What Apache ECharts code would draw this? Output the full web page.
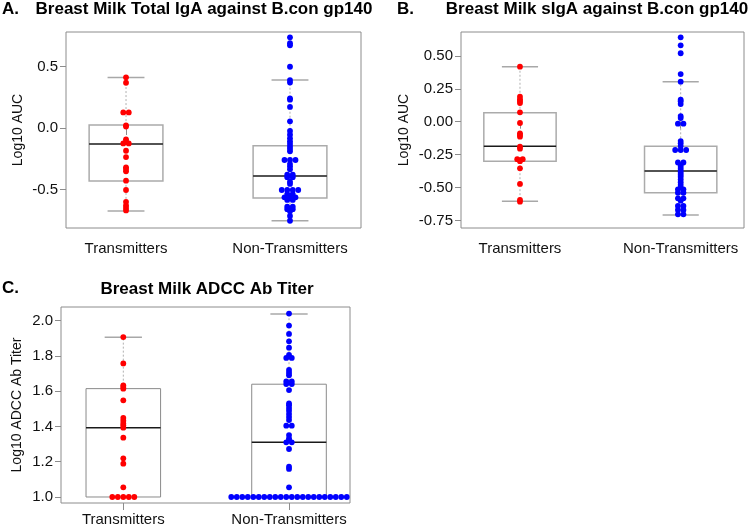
<!DOCTYPE html>
<html>
<head>
<meta charset="UTF-8">
<title>Breast milk antibody: transmitters vs non-transmitters</title>
<script src="https://cdn.jsdelivr.net/npm/echarts@6/dist/echarts.min.js"></script>
<style>
    html, body { margin: 0; padding: 0; background: #fff; }
    #main { width: 750px; height: 529px; }
</style>
</head>
<body>
<div id="main"></div>
<script>
var groups = ['Transmitters', 'Non-Transmitters'];

// A. total IgA against B.con gp140 (log10 AUC)
var igaTrans = [0.412, 0.368, 0.127, 0.127, 0.022, 0.012, -0.092, -0.111, -0.125, -0.125,
    -0.185, -0.236, -0.320, -0.333, -0.352, -0.428, -0.504, -0.600, -0.630, -0.650, -0.670];
var igaNon = [0.737, 0.689, 0.672, 0.498, 0.390, 0.370, 0.241, 0.230, 0.171, 0.054,
    -0.024, -0.054, -0.084, -0.108, -0.130, -0.152, -0.171, -0.190, -0.260, -0.260, -0.260,
    -0.293, -0.314, -0.336, -0.380, -0.380, -0.400, -0.400, -0.436, -0.455,
    -0.504, -0.504, -0.504, -0.504, -0.537, -0.537, -0.564, -0.564, -0.564, -0.585, -0.585,
    -0.640, -0.640, -0.660, -0.660, -0.677, -0.715, -0.754];
// box stats: [lower whisker, Q1, median, Q3, upper whisker]
var igaBoxTrans = [-0.675, -0.430, -0.130, 0.024, 0.410];
var igaBoxNon = [-0.754, -0.570, -0.390, -0.144, 0.390];
var igaTicks = [-0.5, 0, 0.5];

// B. sIgA against B.con gp140 (log10 AUC)
var sigaTrans = [0.418, 0.190, 0.170, 0.157, 0.142, 0.071, -0.010, -0.088, -0.101, -0.114,
    -0.190, -0.205, -0.285, -0.285, -0.292, -0.300, -0.354, -0.473, -0.595, -0.608];
var sigaNon = [0.641, 0.580, 0.520, 0.362, 0.304, 0.167, 0.155, 0.134, 0.043, 0.028,
    -0.015, -0.015, -0.147, -0.164, -0.185, -0.215, -0.215, -0.215, -0.310, -0.310,
    -0.330, -0.345, -0.360, -0.375, -0.390, -0.405, -0.420, -0.440, -0.460, -0.480, -0.500,
    -0.514, -0.514, -0.540, -0.540, -0.582, -0.582, -0.600, -0.640, -0.640,
    -0.671, -0.671, -0.704, -0.704];
var sigaBoxTrans = [-0.605, -0.300, -0.187, 0.068, 0.418];
var sigaBoxNon = [-0.709, -0.540, -0.375, -0.187, 0.304];
var sigaTicks = [-0.75, -0.5, -0.25, 0, 0.25, 0.5];

// C. ADCC Ab titer (log10)
var adccTrans = [1.906, 1.757, 1.633, 1.623, 1.614, 1.548, 1.448, 1.432, 1.417, 1.406,
    1.393, 1.336, 1.219, 1.189, 1.055, 1, 1, 1, 1, 1];
var adccNon = [2.039, 1.971, 1.924, 1.882, 1.846, 1.805, 1.788, 1.788, 1.720, 1.704,
    1.690, 1.655, 1.655, 1.640, 1.640, 1.606, 1.530, 1.520, 1.504, 1.489, 1.470, 1.453,
    1.436, 1.404, 1.404, 1.351, 1.332, 1.322, 1.310, 1.310, 1.272, 1.172, 1.159, 1.055,
    1, 1, 1, 1, 1, 1, 1, 1, 1, 1, 1, 1, 1, 1, 1, 1, 1, 1, 1, 1, 1, 1];
var adccBoxTrans = [1.000, 1.000, 1.393, 1.614, 1.905];
var adccBoxNon = [1.000, 1.000, 1.310, 1.639, 2.037];
var adccTicks = [1.0, 1.2, 1.4, 1.6, 1.8, 2.0];

// layout of the three panels
var panels = [
    {
        letter: 'A.', letterPos: [2, 1],
        title: 'Breast Milk Total IgA against B.con gp140', titlePos: [204, 1],
        grid: {left: 66, top: 32, width: 295, height: 196},
        xRange: [0.634, 2.433], yRange: [-0.813, 0.7805],
        ticks: igaTicks, digits: 1, yName: 'Log10 AUC', nameGap: 41, xMargin: 13,
        pts: [igaTrans, igaNon], box: [igaBoxTrans, igaBoxNon],
        boxColor: '#ababab', boxWidth: 1.5
    },
    {
        letter: 'B.', letterPos: [397, 1],
        title: 'Breast Milk sIgA against B.con gp140', titlePos: [597, 1],
        grid: {left: 461, top: 32, width: 283, height: 196},
        xRange: [0.633, 2.394], yRange: [-0.8078, 0.6816],
        ticks: sigaTicks, digits: 2, yName: 'Log10 AUC', nameGap: 50, xMargin: 13,
        pts: [sigaTrans, sigaNon], box: [sigaBoxTrans, sigaBoxNon],
        boxColor: '#ababab', boxWidth: 1.5
    },
    {
        letter: 'C.', letterPos: [2, 280],
        title: 'Breast Milk ADCC Ab Titer', titlePos: [207, 281],
        grid: {left: 61, top: 307, width: 289, height: 196},
        xRange: [0.624, 2.368], yRange: [0.966, 2.0765],
        ticks: adccTicks, digits: 1, yName: 'Log10 ADCC Ab Titer', nameGap: 37, xMargin: 9,
        pts: [adccTrans, adccNon], box: [adccBoxTrans, adccBoxNon],
        boxColor: '#8a8a8a', boxWidth: 1
    }
];

var dotColors = ['#ff0000', '#0000ff'];
var dotSize = 5.8;
var dotGap = 5.5;      // px between neighbouring dots of one row
var boxHalf = 0.225;   // half box width, x units
var capHalf = 0.1125;

// beeswarm "center": equal values side by side, centred on the group
function swarm(values, xPos, pxPerUnit) {
    var count = {}, seen = {};
    values.forEach(function (v) {
        var k = v.toFixed(3);
        count[k] = (count[k] || 0) + 1;
    });
    return values.map(function (v) {
        var k = v.toFixed(3), n = count[k], j = seen[k] || 0;
        seen[k] = j + 1;
        return [xPos + (j - (n - 1) / 2) * dotGap / pxPerUnit, v];
    });
}

function makeBoxRender(color, width) {
    return function (params, api) {
        var x = api.value(0);
        var lo = api.value(1), q1 = api.value(2), md = api.value(3), q3 = api.value(4), hi = api.value(5);
        var cx = api.coord([x, md])[0];
        var xl = api.coord([x - boxHalf, md])[0], xr = api.coord([x + boxHalf, md])[0];
        var cl = api.coord([x - capHalf, md])[0], cr = api.coord([x + capHalf, md])[0];
        var yLo = api.coord([x, lo])[1], yQ1 = api.coord([x, q1])[1];
        var yMd = api.coord([x, md])[1], yQ3 = api.coord([x, q3])[1], yHi = api.coord([x, hi])[1];
        var whisker = {stroke: '#b0b0b0', lineWidth: 1, lineDash: [2, 2]};
        var cap = {stroke: '#a8a8a8', lineWidth: 1.5};
        var kids = [
            {type: 'line', shape: {x1: cx, y1: yQ3, x2: cx, y2: yHi}, style: whisker},
            {type: 'line', shape: {x1: cl, y1: yHi, x2: cr, y2: yHi}, style: cap},
            {type: 'rect', shape: {x: xl, y: yQ3, width: xr - xl, height: yQ1 - yQ3},
                style: {fill: 'none', stroke: color, lineWidth: width}},
            {type: 'line', shape: {x1: xl, y1: yMd, x2: xr, y2: yMd},
                style: {stroke: '#1a1a1a', lineWidth: 1.5}}
        ];
        if (lo < q1) {
            kids.push({type: 'line', shape: {x1: cx, y1: yQ1, x2: cx, y2: yLo}, style: whisker});
            kids.push({type: 'line', shape: {x1: cl, y1: yLo, x2: cr, y2: yLo}, style: cap});
        }
        return {type: 'group', children: kids};
    };
}

var titles = [], grids = [], xAxes = [], yAxes = [], series = [];
panels.forEach(function (p, i) {
    titles.push({
        text: p.title, left: p.titlePos[0], top: p.titlePos[1], textAlign: 'center', padding: 0,
        textStyle: {fontSize: 17, fontWeight: 'bold', color: '#000'}
    });
    titles.push({
        text: p.letter, left: p.letterPos[0], top: p.letterPos[1], padding: 0,
        textStyle: {fontSize: 17, fontWeight: 'bold', color: '#000'}
    });
    grids.push({
        left: p.grid.left, top: p.grid.top, width: p.grid.width, height: p.grid.height,
        show: true, borderColor: '#8c8c8c', borderWidth: 1, backgroundColor: 'transparent'
    });
    xAxes.push({
        type: 'value', gridIndex: i, min: p.xRange[0], max: p.xRange[1],
        axisLine: {show: false}, splitLine: {show: false},
        axisTick: {show: true, customValues: [1, 2], length: 7, lineStyle: {color: '#8c8c8c'}},
        axisLabel: {
            customValues: [1, 2], margin: p.xMargin, fontSize: 15, color: '#111',
            formatter: function (v) { return groups[Math.round(v) - 1]; }
        }
    });
    yAxes.push({
        type: 'value', gridIndex: i, min: p.yRange[0], max: p.yRange[1],
        axisLine: {show: false}, splitLine: {show: false},
        axisTick: {show: true, customValues: p.ticks, length: 6, lineStyle: {color: '#8c8c8c'}},
        axisLabel: {
            customValues: p.ticks, margin: 8, fontSize: 15, color: '#111',
            formatter: function (v) { return v.toFixed(p.digits); }
        },
        name: p.yName, nameLocation: 'middle', nameGap: p.nameGap,
        nameTextStyle: {fontSize: 14, color: '#111'}
    });
    series.push({
        type: 'custom', xAxisIndex: i, yAxisIndex: i, z: 1, silent: true,
        renderItem: makeBoxRender(p.boxColor, p.boxWidth),
        encode: {x: 0, y: [1, 2, 3, 4, 5]},
        data: [[1].concat(p.box[0]), [2].concat(p.box[1])]
    });
    var pxPerUnit = p.grid.width / (p.xRange[1] - p.xRange[0]);
    p.pts.forEach(function (vals, g) {
        series.push({
            type: 'scatter', xAxisIndex: i, yAxisIndex: i, z: 3, silent: true,
            symbol: 'circle', symbolSize: dotSize,
            itemStyle: {color: dotColors[g], opacity: 1},
            data: swarm(vals, g + 1, pxPerUnit)
        });
    });
});

var myChart = echarts.init(document.getElementById('main'));
myChart.setOption({
    animation: false,
    backgroundColor: '#fff',
    textStyle: {fontFamily: '"Liberation Sans", Arial, Helvetica, sans-serif'},
    title: titles,
    grid: grids,
    xAxis: xAxes,
    yAxis: yAxes,
    series: series
});
</script>
</body>
</html>
